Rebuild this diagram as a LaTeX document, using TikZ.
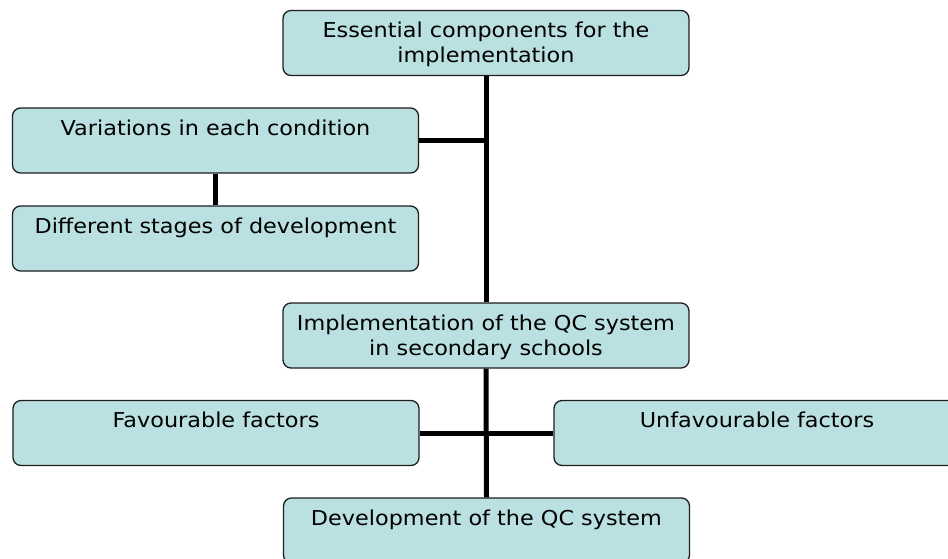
\documentclass[tikz,border=0pt]{standalone}
\usepackage{fontspec}
\setmainfont[FakeStretch=1.09]{DejaVu Sans}
\definecolor{boxfill}{RGB}{186,224,225}
\definecolor{boxline}{RGB}{30,30,30}
\tikzset{
  concept/.style={draw=boxline, line width=1.3pt, fill=boxfill,
    rounded corners=8pt, minimum width=406pt, minimum height=65pt,
    inner sep=0pt},
  caption/.style={anchor=north, inner sep=0pt, yshift=-12pt,
    align=center, font=\fontsize{20.5}{25}\selectfont},
  link/.style={line width=5pt, black}
}
\begin{document}
\begin{tikzpicture}[x=1pt, y=-1pt]
  \useasboundingbox (0,0) rectangle (948,558);
  \clip (0,0) rectangle (948,558);

  % boxes
  \node[concept, label={[caption]north:Essential components for the\\implementation}] (top) at (486,43) {};
  \node[concept, label={[caption]north:Variations in each condition}] (var) at (215.5,140.5) {};
  \node[concept, label={[caption]north:Different stages of development}] (diff) at (215.5,238.5) {};
  \node[concept, label={[caption]north:Implementation of the QC system\\in secondary schools}] (impl) at (486,335.5) {};
  \node[concept, label={[caption]north:Favourable factors}] (fav) at (216,433) {};
  \node[concept, label={[caption]north:Unfavourable factors}] (unfav) at (757,433) {};
  \node[concept, label={[caption]north:Development of the QC system}] (dev) at (486.5,530.5) {};

  % connectors
  \draw[link] (top.south) -- (impl.north);
  \draw[link] (var.east) -- (var.east -| top.south);
  \draw[link] (var.south) -- (diff.north);
  \draw[link] (impl.south) -- (dev.north);
  \draw[link] (fav.east) -- (unfav.west);
\end{tikzpicture}
\end{document}
